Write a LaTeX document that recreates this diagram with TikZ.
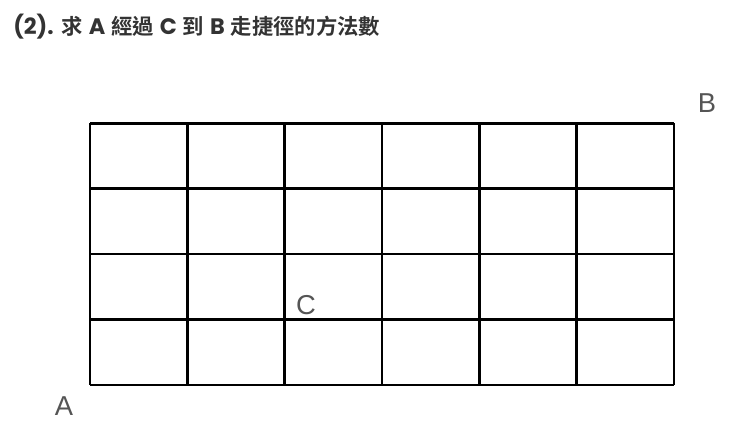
\documentclass[tikz,border=0pt]{standalone}
\usepackage{fontspec}
\setmainfont{Liberation Sans}
\newfontfamily\latfont{Poppins}[BoldFont={* Bold},Scale=1.05]
\newfontfamily\cjkfont{Noto Sans CJK TC}[BoldFont={* Bold}]
\definecolor{labelgray}{HTML}{555555}
\definecolor{titlegray}{HTML}{333333}
\begin{document}
\begin{tikzpicture}[x=0.75pt,y=-0.75pt,
  gridline/.style={line width=1.9pt,black},
  ptlabel/.style={inner sep=0pt,text=labelgray,font=\fontsize{20.5pt}{24pt}\selectfont},
  titletext/.style={inner sep=0pt,anchor=west,text=titlegray,font=\fontsize{16pt}{19pt}\selectfont\bfseries}]
\useasboundingbox (0,0) rectangle (740,438);
% grid
\foreach \i in {0,...,6} {
  \draw[gridline] ({90+\i*97.33},123.3) -- ({90+\i*97.33},385);
}
\foreach \j in {0,...,4} {
  \draw[gridline] (90,{123.3+\j*65.42}) -- (674,{123.3+\j*65.42});
}
\node[titletext] (title) at (13,27) {{\latfont (2).} {\cjkfont 求} {\latfont A} {\cjkfont 經過} {\latfont C} {\cjkfont 到} {\latfont B} {\cjkfont 走捷徑的方法數}};
\node[ptlabel] (B) at (707,103) {B};
\node[ptlabel] (C) at (306,305) {C};
\node[ptlabel] (A) at (64,406) {A};
\end{tikzpicture}
\end{document}
